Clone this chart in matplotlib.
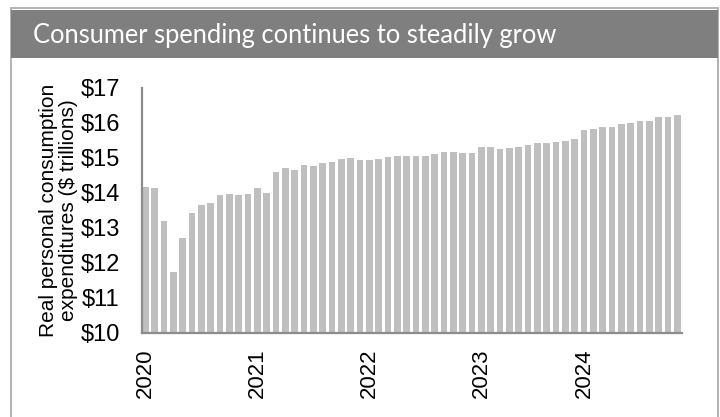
import matplotlib
matplotlib.use("Agg")
import matplotlib.pyplot as plt
from matplotlib.patches import Rectangle

# real PCE, $ trillions, monthly bars
pce = [14.16, 14.14, 13.20, 11.75, 12.72, 13.44, 13.65, 13.72, 13.93, 13.96,
       13.93, 13.98, 14.15, 14.00, 14.60, 14.72, 14.66, 14.80, 14.77, 14.86,
       14.89, 14.97, 15.00, 14.94, 14.94, 14.97, 15.03, 15.06, 15.06, 15.05,
       15.05, 15.10, 15.16, 15.18, 15.13, 15.13, 15.30, 15.30, 15.27, 15.29,
       15.32, 15.36, 15.43, 15.42, 15.47, 15.49, 15.54, 15.80, 15.83, 15.89,
       15.89, 15.97, 15.99, 16.05, 16.07, 16.16, 16.17, 16.22]
year_pos = [0, 12, 24, 36, 47]
year_labels = ['2020', '2021', '2022', '2023', '2024']
y_ticks = [10, 11, 12, 13, 14, 15, 16, 17]

title = 'Consumer spending continues to steadily grow'
ylabel = 'Real personal consumption\nexpenditures ($ trillions)'

W, H = 720, 417
fig = plt.figure(figsize=(W / 100, H / 100), dpi=100)

# frame + title banner
fig.patches.append(Rectangle((11 / W, -0.05), 707 / W, 1.05 - 8 / H,
                             transform=fig.transFigure, facecolor='none',
                             edgecolor='#a6a6a6', lw=1.2, zorder=-2))
fig.patches.append(Rectangle((11 / W, 1 - 58 / H), 707 / W, 48 / H,
                             transform=fig.transFigure, facecolor='#7f7f7f',
                             edgecolor='none', zorder=-1))
fig.text(33 / W, 1 - 35 / H, title, color='white', fontsize=18.4,
         family='Lato', va='center', ha='left')

ax = fig.add_axes([142 / W, 1 - 333 / H, 540 / W, 245 / H])
ax.bar(range(len(pce)), [v - 10 for v in pce], bottom=10, width=0.7,
       color='#bfbfbf', zorder=2)
ax.set_xlim(-0.35, 57.5)
ax.set_ylim(10, 17)
ax.set_yticks(y_ticks)
ax.set_yticklabels(['$%d' % t for t in y_ticks], family='Liberation Sans',
                   fontsize=17)
ax.set_xticks(year_pos)
ax.set_xticklabels(year_labels, rotation=90, family='Liberation Sans',
                   fontsize=16)
ax.tick_params(axis='y', length=0, pad=16)
ax.tick_params(axis='x', length=0, pad=11)
for s in ['top', 'right']:
    ax.spines[s].set_visible(False)
for s in ['left', 'bottom']:
    ax.spines[s].set_color('#8c8c8c')
    ax.spines[s].set_linewidth(1.6)
ax.set_ylabel(ylabel, family='Liberation Sans', fontsize=15, labelpad=2,
              linespacing=1.05)
ax.patch.set_alpha(0)

fig.savefig('out.png', dpi=100)
